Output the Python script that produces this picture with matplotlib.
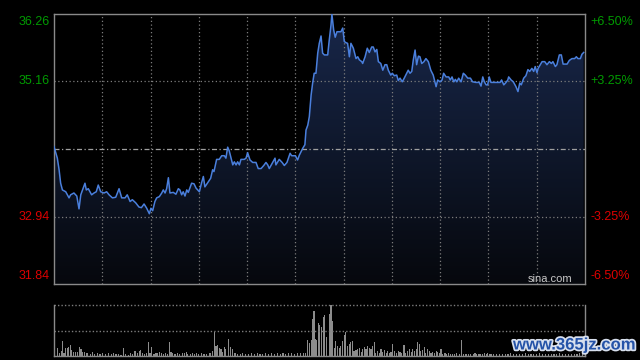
import numpy as np
import matplotlib
matplotlib.use("Agg")
import matplotlib.pyplot as plt
from matplotlib.colors import LinearSegmentedColormap
from matplotlib.patches import Polygon
import matplotlib.patheffects as pe

plt.rcParams["font.family"] = ["Liberation Sans", "DejaVu Sans"]

# ---------------- data (minutes since open, price) ----------------
PREV_CLOSE = 34.05
Y_TICKS = [36.26, 35.16, 32.94, 31.84]
PCT_LABELS = ["+6.50%", "+3.25%", "-3.25%", "-6.50%"]

t = [0, 1.5, 2.3, 3.0, 3.8, 5.3, 6.8, 7.5, 9.0, 10.3,
     11.3, 12.1, 14.0, 14.6, 15.5, 17.0, 18.1, 19.1, 20.0, 21.1,
     22.6, 23.8, 24.9, 26.4, 27.9, 29.4, 30.6, 32.1, 33.1, 34.4,
     35.4, 36.9, 38.4, 39.5, 40.7, 41.9, 43.1, 43.8, 44.6, 45.6,
     46.4, 47.6, 48.7, 49.4, 50.2, 50.9, 51.7, 52.4, 53.9, 55.1,
     56.2, 56.9, 57.7, 58.4, 59.2, 60.0, 60.7, 62.2, 63.3, 64.2,
     65.7, 66.8, 67.5, 68.2, 69.7, 70.8, 71.7, 72.3, 73.5, 74.7,
     75.8, 77.0, 77.7, 78.5, 79.2, 80.8, 81.5, 82.3, 83.0, 83.8,
     84.5, 86.0, 86.8, 87.5, 88.6, 89.8, 91.3, 92.3, 93.6, 94.8,
     95.8, 96.6, 97.3, 98.8, 99.9, 100.3, 101.8, 103.1, 104.1, 105.3,
     106.7, 107.4, 109.1, 110.1, 110.9, 112.4, 113.4, 113.9, 114.7, 115.4,
     116.2, 116.9, 117.6, 118.4, 119.2, 119.9, 120.7, 121.4, 122.2, 123.7,
     124.4, 125.2, 125.6, 126.4, 127.1, 127.9, 129.7, 130.5, 131.2, 132.0,
     132.7, 133.5, 134.2, 135.3, 136.5, 137.3, 138.0, 139.1, 139.5, 140.6,
     141.6, 142.5, 143.6, 144.3, 145.1, 145.9, 146.6, 147.7, 148.6, 149.6,
     150.4, 151.1, 152.2, 152.9, 153.8, 154.9, 155.6, 156.4, 157.4, 158.3,
     159.4, 160.1, 160.9, 161.7, 162.4, 163.2, 163.9, 164.7, 165.4, 166.2,
     167.2, 168.1, 169.2, 170.3, 171.4, 172.7, 173.4, 174.5, 175.4, 176.1,
     177.2, 178.4, 179.1, 179.9, 180.7, 181.4, 182.1, 182.9, 184.0, 185.0,
     185.9, 187.0, 188.2, 189.2, 190.7, 192.2, 193.0, 193.8, 194.5, 195.3,
     196.0, 196.7, 197.5, 199.0, 200.5, 201.6, 202.3, 203.3, 204.3, 205.1,
     205.5, 206.6, 207.6, 208.8, 209.7, 210.5, 211.2, 212.3, 213.3, 214.2,
     215.0, 216.0, 216.8, 217.5, 218.3, 218.8, 219.8, 220.6, 221.8, 222.8,
     223.9, 224.8, 225.5, 226.6, 227.3, 228.4, 229.3, 230.1, 231.9, 232.9,
     234.1, 235.3, 236.1, 236.8, 237.9, 238.6, 239.4]

price = [34.09, 33.90, 33.71, 33.49, 33.38, 33.35, 33.25, 33.30, 33.33, 33.28,
         33.07, 33.30, 33.49, 33.38, 33.40, 33.30, 33.33, 33.35, 33.46, 33.35,
         33.33, 33.35, 33.30, 33.25, 33.26, 33.40, 33.25, 33.25, 33.30, 33.19,
         33.22, 33.17, 33.10, 33.09, 33.15, 33.08, 32.99, 33.08, 33.04, 33.19,
         33.25, 33.27, 33.33, 33.38, 33.33, 33.40, 33.58, 33.33, 33.34, 33.31,
         33.40, 33.38, 33.30, 33.35, 33.28, 33.38, 33.34, 33.49, 33.48, 33.41,
         33.35, 33.51, 33.60, 33.43, 33.51, 33.57, 33.71, 33.68, 33.88, 33.88,
         33.94, 33.94, 33.90, 34.08, 34.02, 33.79, 33.84, 33.79, 33.84, 33.79,
         33.88, 33.88, 33.90, 33.99, 33.87, 33.83, 33.83, 33.73, 33.73, 33.78,
         33.83, 33.79, 33.73, 33.83, 33.90, 33.79, 33.88, 33.83, 33.78, 33.83,
         33.98, 33.94, 33.94, 33.87, 33.95, 34.06, 34.12, 34.36, 34.44, 34.58,
         34.93, 35.13, 35.29, 35.29, 35.62, 35.78, 35.90, 35.62, 35.59, 35.59,
         35.83, 36.08, 36.26, 36.00, 35.88, 35.97, 35.97, 36.03, 35.81, 35.79,
         35.78, 35.56, 35.78, 35.70, 35.53, 35.56, 35.51, 35.48, 35.45, 35.56,
         35.70, 35.63, 35.72, 35.72, 35.64, 35.68, 35.48, 35.45, 35.34, 35.43,
         35.43, 35.34, 35.26, 35.29, 35.25, 35.26, 35.17, 35.21, 35.15, 35.21,
         35.29, 35.34, 35.29, 35.32, 35.51, 35.67, 35.43, 35.57, 35.56, 35.45,
         35.48, 35.53, 35.48, 35.34, 35.26, 35.07, 35.18, 35.15, 35.18, 35.29,
         35.23, 35.23, 35.18, 35.23, 35.15, 35.19, 35.15, 35.21, 35.15, 35.29,
         35.26, 35.21, 35.21, 35.15, 35.14, 35.14, 35.08, 35.23, 35.15, 35.10,
         35.10, 35.23, 35.14, 35.14, 35.14, 35.14, 35.18, 35.10, 35.14, 35.18,
         35.23, 35.18, 35.15, 35.07, 34.99, 35.13, 35.10, 35.21, 35.25, 35.35,
         35.32, 35.37, 35.32, 35.40, 35.30, 35.37, 35.43, 35.48, 35.48, 35.43,
         35.48, 35.45, 35.48, 35.40, 35.43, 35.59, 35.59, 35.44, 35.44, 35.50,
         35.53, 35.53, 35.56, 35.53, 35.53, 35.60, 35.63]

# volume (relative units, panel top = 50)
vol_t = [0.4, 1.5, 2.4, 3.2, 3.8, 4.5, 5.3, 6.0, 6.6, 7.5,
         8.1, 9.0, 9.8, 10.5, 11.4, 12.2, 13.0, 13.7, 14.5, 15.2,
         16.3, 17.3, 18.2, 19.6, 20.8, 22.0, 23.1, 24.6, 25.8, 26.8,
         28.0, 29.1, 30.3, 31.3, 32.4, 33.6, 34.7, 35.6, 36.6, 37.7,
         38.6, 39.2, 39.9, 41.1, 41.9, 42.6, 43.4, 44.1, 45.2, 46.1,
         46.7, 47.5, 48.4, 49.4, 50.2, 51.2, 52.1, 52.9, 53.6, 54.7,
         55.7, 56.9, 58.0, 58.9, 59.7, 60.4, 61.5, 62.5, 63.4, 64.5,
         65.5, 66.8, 67.8, 69.0, 70.1, 70.8, 71.6, 72.5, 73.2, 74.0,
         74.7, 75.5, 76.2, 77.0, 77.6, 78.8, 79.7, 80.8, 81.8, 82.8,
         84.1, 85.3, 86.6, 88.0, 89.3, 90.5, 91.8, 93.1, 94.4, 95.7,
         97.0, 98.3, 99.6, 100.9, 102.2, 103.5, 104.8, 106.1, 107.4, 108.7,
         110.0, 111.5, 112.7, 113.8, 114.5, 115.4, 116.2, 116.9, 117.5, 118.3,
         118.7, 119.5,
         120.2, 121.0, 121.7, 122.3, 123.3, 124.4, 125.2, 125.8, 126.6, 127.3,
         128.0, 129.0, 129.6, 130.3, 131.1, 131.8, 132.7, 133.5, 134.2, 134.8,
         135.6, 136.5, 137.3, 138.0, 138.8, 139.5, 140.2, 141.0, 141.8, 142.5,
         143.3, 144.0, 144.8, 145.5, 146.3, 147.0, 147.8, 148.5, 149.3, 150.1,
         150.8, 151.6, 152.3, 153.1, 153.8, 154.9, 155.6, 156.4, 157.2, 158.2,
         159.0, 159.7, 160.6, 161.4, 162.1, 162.9, 163.7, 164.2, 165.0, 165.8,
         166.5, 167.4, 168.1, 168.9, 169.6, 170.4, 171.2, 171.9, 172.7, 173.4,
         174.1, 174.9, 175.7, 176.7, 177.5, 178.2, 179.3, 180.2, 181.2, 182.0,
         183.2, 184.3, 185.0, 186.2, 187.3, 188.3, 189.5, 190.3, 191.0, 192.1,
         192.8, 193.8, 194.5, 195.3, 196.0, 196.7, 197.5, 198.7, 200.0, 201.3,
         202.6, 203.9, 205.2, 206.5, 207.8, 209.1, 210.4, 211.7, 213.0, 214.3,
         215.6, 216.9, 218.2, 219.5, 220.8, 222.1, 223.4, 224.7, 226.0, 227.3,
         228.6, 229.9, 231.2, 232.5, 233.8, 235.1, 236.4, 237.7, 239.0]

vol = [7, 7.7, 2.7, 5.3, 14.3, 2.7, 7.7, 7.7, 9.3, 10.3,
       6, 4.3, 4.3, 3.7, 8.7, 6.7, 4.3, 4.3, 3.3, 3.3,
       2, 4.3, 2, 3.3, 2, 3.3, 2, 2.7, 2, 3.3,
       2, 2, 1, 7.7, 2, 1, 2.7, 2, 5.3, 2.7,
       5, 6, 2.7, 2, 3.3, 13.3, 2.7, 8.7, 2, 2.7,
       3.3, 4.3, 2.7, 2, 3.3, 2, 13.7, 4.3, 2.7, 2,
       2.7, 2, 2.7, 3.3, 4.3, 2, 2, 3.3, 2, 2.7,
       2, 2.7, 2, 2, 2.7, 3.3, 5.3, 23.3, 10, 11,
       8.3, 6.7, 4.3, 8.7, 6.7, 16.7, 8.7, 6.7, 2.7, 2,
       2, 2.7, 2, 2, 3.3, 2, 2.7, 2, 2, 2.7,
       2, 3.3, 2, 2.7, 2, 2.7, 2, 3.3, 2.7, 2,
       2.7, 3.3, 2.7, 2.7, 15.3, 12.7, 16, 36.7, 43.7, 16.7,
       16, 32.7,
       30, 28.3, 38.3, 40, 18.3, 41, 50, 34.3, 8.3, 15,
       10, 8.3, 10, 15, 21, 23.3, 10, 11.7, 13.3, 15,
       5, 5.7, 6.7, 8.3, 4.3, 6.7, 9, 6.7, 10, 8.3,
       6.7, 10, 14, 3.3, 5, 3.3, 6.7, 4.3, 5.7, 3.3,
       5, 3.3, 4.3, 11.7, 5, 3.3, 5, 4.3, 3.3, 11,
       3.3, 5, 6.7, 4.3, 6.7, 5, 6.7, 14, 11.7, 5,
       5.7, 9, 3.3, 6.7, 5, 3.3, 4.3, 3.3, 5, 4.3,
       3.3, 6.7, 2.3, 3.3, 2.3, 3.3, 1.7, 2.3, 1.7, 3.3,
       1.7, 15.7, 2.3, 1.7, 2.3, 1.7, 2.3, 3.3, 1.7, 2.3,
       1.7, 2.3, 3.3, 2.3, 3.3, 2.3, 1.7, 2.3, 1.7, 2.3,
       1.7, 2.3, 1.7, 2.7, 1.7, 2.3, 1.7, 2.3, 2.7, 1.7,
       2.3, 1.7, 2.3, 2.7, 1.7, 2.3, 1.7, 2.3, 1.7, 2.3,
       2.7, 1.7, 2.3, 1.7, 2.3, 1.7, 2.3, 2.7, 2]

# ---------------- figure ----------------
BG = "black"
GRID = "#7c7c7c"
SPINE = "#8a8a8a"
GREEN = "#009a00"
RED = "#dd0000"
YMIN, YMAX = Y_TICKS[-1], Y_TICKS[0]
XMAX = 240

fig = plt.figure(figsize=(6.4, 3.6), dpi=100, facecolor=BG)
ax = fig.add_axes([54 / 640, 76 / 360, 531 / 640, 270 / 360], facecolor=BG)
axv = fig.add_axes([54 / 640, 4 / 360, 531 / 640, 51 / 360], facecolor=BG)

# gradient area under the price line
cmap = LinearSegmentedColormap.from_list("area", ["#06080d", "#18274a"])
grad = np.linspace(1, 0, 256).reshape(-1, 1)
img = ax.imshow(grad, aspect="auto", cmap=cmap, extent=[0, XMAX, YMIN, YMAX],
                origin="upper", zorder=1)
verts = [(t[0], YMIN)] + list(zip(t, price)) + [(t[-1], YMIN)]
area = Polygon(verts, closed=True, facecolor="none", edgecolor="none")
ax.add_patch(area)
img.set_clip_path(area)

ax.plot(t, price, color="#4a7fdc", lw=1.1, zorder=3)

# grid
for k in range(1, 11):
    ax.axvline(XMAX / 11 * k, color=GRID, lw=0.9, ls=(0, (1, 2)), zorder=2)
for y in [Y_TICKS[1], Y_TICKS[2]]:
    ax.axhline(y, color=GRID, lw=0.9, ls=(0, (1, 2)), zorder=2)
ax.axhline(PREV_CLOSE, color="#a0a0a0", lw=0.9, ls=(0, (4, 2, 1, 2)), zorder=2)

ax.set_xlim(0, XMAX)
ax.set_ylim(YMIN, YMAX)
ax.set_xticks([])
ax.set_yticks([])
for s in ax.spines.values():
    s.set_color(SPINE)
    s.set_linewidth(1)

# axis labels
colors = [GREEN, GREEN, RED, RED]
vas = ["top", "center", "center", "bottom"]
offs = [-1.5, 0, 0, 1.5]
for y, lab, c, va, o in zip(Y_TICKS, PCT_LABELS, colors, vas, offs):
    ax.annotate(f"{y:.2f}", (0, y), xycoords=("axes fraction", "data"),
                xytext=(-3, o), textcoords="offset points",
                ha="right", va=va, color=c, fontsize=9)
    ax.annotate(lab, (1, y), xycoords=("axes fraction", "data"),
                xytext=(4, o), textcoords="offset points",
                ha="left", va=va, color=c, fontsize=9)

ax.text(0.977, 0.02, "sina.com", transform=ax.transAxes, ha="right", va="center",
        color="#c8c8c8", fontsize=8)

# ---------------- volume ----------------
axv.bar(vol_t, vol, width=0.5, color="#8c8c8c", linewidth=0)
axv.set_xlim(0, XMAX)
axv.set_ylim(0, 50)
axv.axhline(50, color=GRID, lw=1, ls=(0, (1, 1.5)), clip_on=False)
axv.axhline(25, color=GRID, lw=1, ls=(0, (1, 1.5)))
axv.set_xticks([])
axv.set_yticks([])
axv.spines["top"].set_visible(False)
for k in ["left", "right", "bottom"]:
    axv.spines[k].set_color(SPINE)
    axv.spines[k].set_linewidth(1)

# watermark
fig.text(574 / 640, 15 / 360, "www.365jz.com", ha="center", va="center",
         color="#2553a8", fontsize=12, fontweight="bold",
         path_effects=[pe.withStroke(linewidth=2.5, foreground="#d8e0ee")])

fig.savefig("out.png", dpi=100, facecolor=BG)
